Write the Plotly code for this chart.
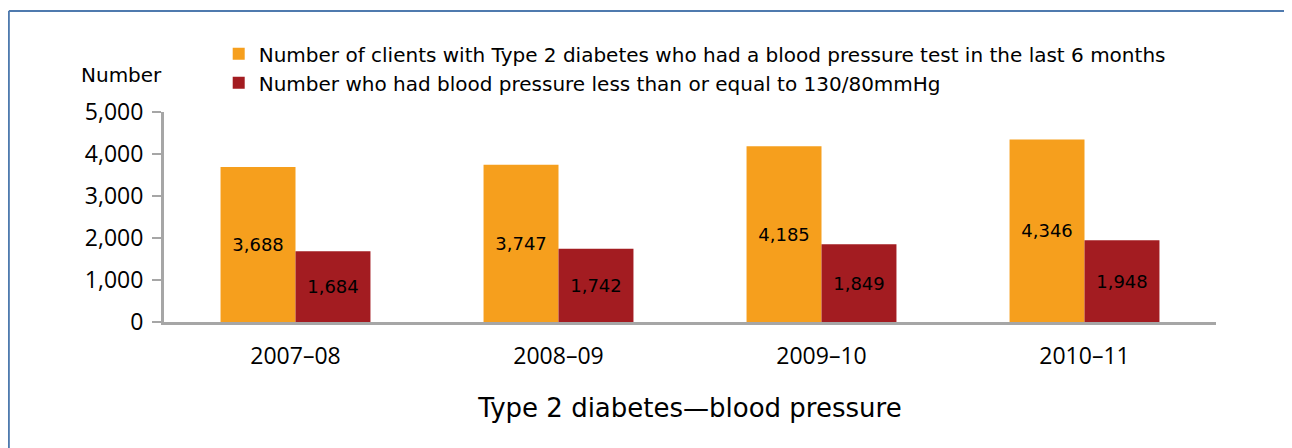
import plotly.graph_objects as go

years = ["2007–08", "2008–09", "2009–10", "2010–11"]
tested = [3688, 3747, 4185, 4346]
below_target = [1684, 1742, 1849, 1948]

name_tested = "Number of clients with Type 2 diabetes who had a blood pressure test in the last 6 months"
name_below = "Number who had blood pressure less than or equal to 130/80mmHg"

label_font = "DejaVu Sans"
tick_font = "Open Sans"

fig = go.Figure()
fig.add_trace(go.Bar(x=years, y=tested, name=name_tested,
                     marker=dict(color="#F69F1D", line=dict(width=0)),
                     texttemplate="%{y:,}", textposition="inside",
                     insidetextanchor="middle",
                     textfont=dict(family=label_font, size=18, color="black")))
fig.add_trace(go.Bar(x=years, y=below_target, name=name_below,
                     marker=dict(color="#A31C21", line=dict(width=0)),
                     texttemplate="%{y:,}", textposition="inside",
                     insidetextanchor="middle",
                     textfont=dict(family=label_font, size=18, color="black")))

# page has ~8px offset, so figure is a bit smaller than the window
fig.update_layout(
    width=1284, height=440,
    margin=dict(l=156, r=76, t=104, b=126),
    plot_bgcolor="white", paper_bgcolor="white",
    barmode="group", bargap=0.43, bargroupgap=0,
    showlegend=True,
    legend=dict(x=0.052, y=1.37, xanchor="left", yanchor="top",
                font=dict(family=label_font, size=20, color="black"),
                itemwidth=30, tracegroupgap=0, bgcolor="rgba(0,0,0,0)"),
    uniformtext=dict(mode="show", minsize=10),
)

fig.update_xaxes(showline=True, linecolor="#A6A6A6", linewidth=3,
                 ticks="", ticklabelstandoff=11,
                 tickfont=dict(family=tick_font, size=23, color="black"),
                 title=dict(text="Type 2 diabetes—blood pressure",
                            font=dict(family=label_font, size=26, color="black"),
                            standoff=30))
fig.update_yaxes(range=[0, 5000], dtick=1000, tickformat=",",
                 showgrid=False, zeroline=False,
                 showline=True, linecolor="#A6A6A6", linewidth=3,
                 ticks="outside", ticklen=9, tickwidth=2, tickcolor="#A6A6A6",
                 ticklabelstandoff=4,
                 tickfont=dict(family=tick_font, size=23, color="black"))

fig.add_annotation(text="Number", xref="paper", yref="paper",
                   x=0.0, y=1.11, xanchor="right", yanchor="bottom",
                   showarrow=False,
                   font=dict(family=label_font, size=20, color="black"))

# frame border (top and left edge)
fig.add_shape(type="line", xref="paper", yref="paper",
              x0=-0.1475, y0=1.481, x1=1.08, y1=1.481,
              line=dict(color="#4F7AAE", width=2))
fig.add_shape(type="line", xref="paper", yref="paper",
              x0=-0.1475, y0=1.481, x1=-0.1475, y1=-0.62,
              line=dict(color="#4F7AAE", width=2))

fig.write_html("out.html")
